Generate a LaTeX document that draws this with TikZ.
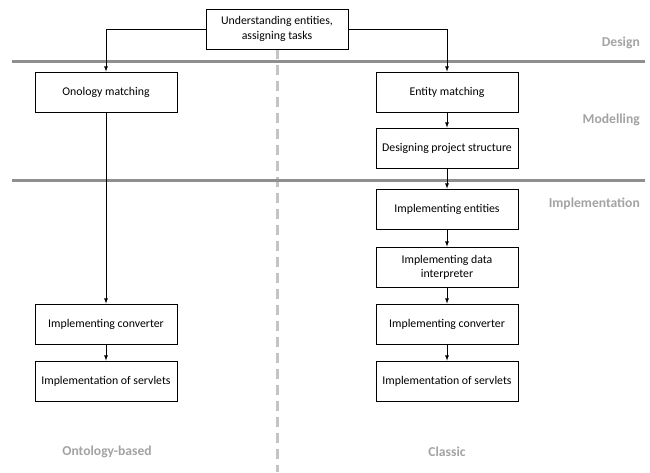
\documentclass[tikz,border=0pt]{standalone}
\usepackage{fontspec}
\setmainfont{Carlito}
\usetikzlibrary{arrows, shapes}

\definecolor{lanegray}{HTML}{8F8F8F}
\definecolor{labelgray}{HTML}{A3A3A3}
\definecolor{splitgray}{HTML}{C4C4C4}

\begin{document}
\begin{tikzpicture}[x=1pt, y=-1pt, >=latex,
  task/.style={rectangle, draw, line width=0.8pt, minimum width=142pt,
    minimum height=40pt, align=center, inner sep=2pt,
    font=\fontsize{11.8}{14.2}\selectfont},
  phase/.style={text=labelgray, anchor=east, inner sep=0pt,
    font=\fontsize{13.6}{16}\selectfont\bfseries},
  approach/.style={text=labelgray, inner sep=0pt,
    font=\fontsize{13.6}{16}\selectfont\bfseries},
  flow/.style={->, line width=0.8pt}]

\useasboundingbox (0,0) rectangle (650,472);

% Dividing line between the two approaches (behind the boxes)
\coordinate (T) at (277,49);
\coordinate (Bot) at (277,472);
\draw[splitgray, line width=3pt, dash pattern=on 10pt off 6pt] (T) -- (Bot);

% Phase separators
\coordinate (D1) at (12,61);
\coordinate (D2) at (645,61);
\coordinate (I1) at (12,180);
\coordinate (I2) at (645,180);
\draw[lanegray, line width=3pt] (D1) -- (D2);
\draw[lanegray, line width=3pt] (I1) -- (I2);

\node[task, fill=white, minimum height=40pt] (U) at (277,29) {Understanding entities,\\assigning tasks};

\node[task] (OM) at (106,92)  {Onology matching};
\node[task] (CL) at (106,324) {Implementing converter};
\node[task] (SL) at (106,381) {Implementation of servlets};

\node[task] (EM) at (447,92)  {Entity matching};
\node[task] (PS) at (447,148) {Designing project structure};
\node[task] (IE) at (447,209) {Implementing entities};
\node[task] (DI) at (447,267) {Implementing data\\interpreter};
\node[task] (CR) at (447,324) {Implementing converter};
\node[task] (SR) at (447,381) {Implementation of servlets};

\draw[flow] (U.west) -| (OM);
\draw[flow] (U.east) -| (EM);
\draw[flow] (OM) -- (CL);
\draw[flow] (CL) -- (SL);
\draw[flow] (EM) -- (PS);
\draw[flow] (PS) -- (IE);
\draw[flow] (IE) -- (DI);
\draw[flow] (DI) -- (CR);
\draw[flow] (CR) -- (SR);

\node[phase] (Ld) at (640,43)  {Design};
\node[phase] (Lm) at (640,120) {Modelling};
\node[phase] (Li) at (640,204) {Implementation};

\node[approach] (Lo) at (107,452) {Ontology-based};
\node[approach] (Lc) at (447,452) {Classic};

\end{tikzpicture}
\end{document}
